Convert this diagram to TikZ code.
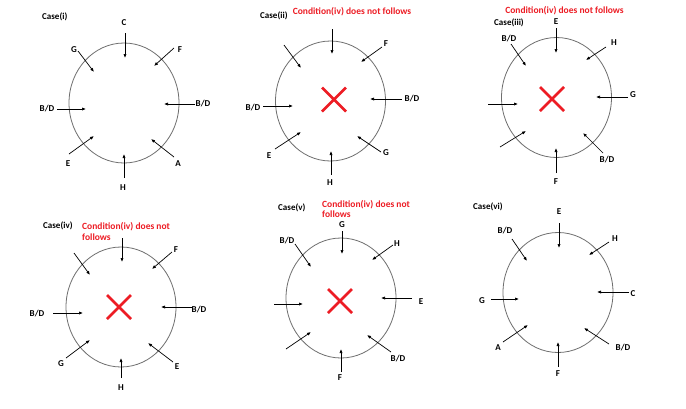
\documentclass[tikz,border=0pt]{standalone}
\usepackage{fontspec}
\setmainfont{Carlito}
\usetikzlibrary{arrows.meta,shapes.geometric,shapes.misc}
\definecolor{xred}{RGB}{237,28,36}
\definecolor{ringgray}{RGB}{110,110,110}
\newcommand\lab[3]{\node[lbl] (#1) at (#2) {#3};}
\newcommand\pin[3]{\coordinate (#1a) at (#2); \coordinate (#1b) at (#3); \draw[arr] (#1a) -- (#1b);}
\begin{document}
\begin{tikzpicture}[x=1pt,y=-1pt,
  lbl/.style={inner sep=0pt,font=\fontsize{9}{10}\selectfont\bfseries},
  casel/.style={inner sep=0pt,anchor=west,font=\fontsize{9}{10}\selectfont\bfseries},
  redt/.style={inner sep=0pt,text=xred,align=left,font=\fontsize{9.5}{10.5}\selectfont\bfseries},
  arr/.style={line width=0.7pt,-{Latex[length=4pt,width=3.2pt]}},
  ring/.style={ellipse,draw=ringgray,line width=0.8pt,minimum width=110pt,minimum height=120pt,inner sep=0pt},
  xmark/.style={cross out,draw=xred,line width=2.5pt,minimum size=24pt,inner sep=0pt,outer sep=0pt}]
\fill[white] (0,0) rectangle (686,408);
\useasboundingbox (0,0) rectangle (686,408);

% ---------- Case(i)
\node[ring] (r1) at (124,103) {};
\node[casel] (c1) at (42,17) {Case(i)};
\lab{a1C}{124,23}{C}   \pin{p1C}{125,33}{125,58}
\lab{a1F}{180,50}{F}   \pin{p1F}{174,48}{154,66}
\lab{a1G}{74,50}{G}    \pin{p1G}{78,51}{94,72}
\lab{a1L}{47,109}{B/D} \pin{p1L}{57,109}{86,109}
\lab{a1R}{203,104}{B/D}\pin{p1R}{195,104}{164,104}
\lab{a1E}{68,164}{E}   \pin{p1E}{69,154}{94,136}
\lab{a1A}{178,164}{A}  \pin{p1A}{174,157}{151,139}
\lab{a1H}{123,188}{H}  \pin{p1H}{124,178}{124,154}

% ---------- Case(ii)
\node[ring] (r2) at (330.5,101) {};
\node[casel] (c2) at (260,16) {Case(ii)};
\node[redt] (t2) at (352,12) {Condition(iv) does not follows};
\pin{p2T}{332,29}{332,54}
\lab{a2F}{386,44}{F}   \pin{p2F}{382,47}{361,62}
\pin{p2TL}{284,45}{301,68}
\lab{a2L}{253,108}{B/D}\pin{p2L}{263,106}{293,106}
\lab{a2R}{412,99}{B/D} \pin{p2R}{402,99}{370,99}
\lab{a2E}{269,156}{E}  \pin{p2E}{275,149}{301,132}
\lab{a2G}{386,153}{G}  \pin{p2G}{381,152}{357,136}
\lab{a2H}{330,183}{H}  \pin{p2H}{331,175}{331,151}
\node[xmark] (x2) at (334,99.5) {};

% ---------- Case(iii)
\node[ring] (r3) at (556.5,97.5) {};
\node[casel] (c3) at (494,23) {Case(iii)};
\node[redt] (t3) at (564.5,11) {Condition(iv) does not follows};
\lab{a3E}{556,22}{E}   \pin{p3E}{556,28}{556,53}
\lab{a3H}{614,43}{H}   \pin{p3H}{606,47}{586,60}
\lab{a3TL}{509,39}{B/D}\pin{p3TL}{511,44}{526,66}
\lab{a3G}{633,95}{G}   \pin{p3G}{628,97}{596,97}
\pin{p3L}{488,104}{518,104}
\pin{p3BL}{500,147}{526,131}
\lab{a3BR}{607,160}{B/D}\pin{p3BR}{603,153}{583,133}
\lab{a3F}{556,182}{F}  \pin{p3F}{556,173}{556,148}
\node[xmark] (x3) at (552,99) {};

% ---------- Case(iv)
\node[ring] (r4) at (121,307) {};
\node[casel] (c4) at (43,226) {Case(iv)};
\node[redt,anchor=west] (t4) at (82,231.5) {Condition(iv) does not\\follows};
\pin{p4T}{122,238}{122,262}
\lab{a4F}{176,250}{F}  \pin{p4F}{172,252}{152,269}
\pin{p4TL}{74,253}{90,275}
\lab{a4L}{37,314}{B/D} \pin{p4L}{53,313}{83,313}
\lab{a4R}{199,310}{B/D}\pin{p4R}{192,307}{161,307}
\lab{a4G}{61,364}{G}   \pin{p4G}{66,358}{90,340}
\lab{a4E}{177,367}{E}  \pin{p4E}{173,362}{148,343}
\lab{a4H}{121,388}{H}  \pin{p4H}{121,378}{121,358}
\node[xmark] (x4) at (119,307) {};

% ---------- Case(v)
\node[ring] (r5) at (341,298) {};
\node[casel] (c5) at (278,208) {Case(v)};
\node[redt,anchor=west] (t5) at (322,209) {Condition(iv) does not\\follows};
\lab{a5G}{342,224.5}{G}\pin{p5G}{342,231}{342,254}
\lab{a5H}{397,244}{H}  \pin{p5H}{393,245}{372,260}
\lab{a5TL}{287,241}{B/D}\pin{p5TL}{295,244}{311,267}
\lab{a5E}{421,302}{E}  \pin{p5E}{412,298}{381,298}
\pin{p5L}{274,304}{303,304}
\pin{p5BL}{286,349}{311,332}
\lab{a5BR}{398,359}{B/D}\pin{p5BR}{391,352}{367,335}
\lab{a5F}{340,378}{F}  \pin{p5F}{341,372}{341,349}
\node[xmark] (x5) at (340,301) {};

% ---------- Case(vi)
\node[ring] (r6) at (558,292.5) {};
\node[casel] (c6) at (473,207) {Case(vi)};
\lab{a6E}{559,212}{E}  \pin{p6E}{559,223}{559,248}
\lab{a6H}{615,239}{H}  \pin{p6H}{609,242}{589,255}
\lab{a6TL}{505,231}{B/D}\pin{p6TL}{512,239}{527,261}
\lab{a6C}{633,294}{C}  \pin{p6C}{629,292}{597,292}
\lab{a6G}{482,301}{G}  \pin{p6G}{491,299}{519,299}
\lab{a6A}{498,348}{A}  \pin{p6A}{503,342}{528,325}
\lab{a6BR}{623,348}{B/D}\pin{p6BR}{609,344}{584,328}
\lab{a6F}{558,374}{F}  \pin{p6F}{558,367}{558,342}
\end{tikzpicture}
\end{document}
